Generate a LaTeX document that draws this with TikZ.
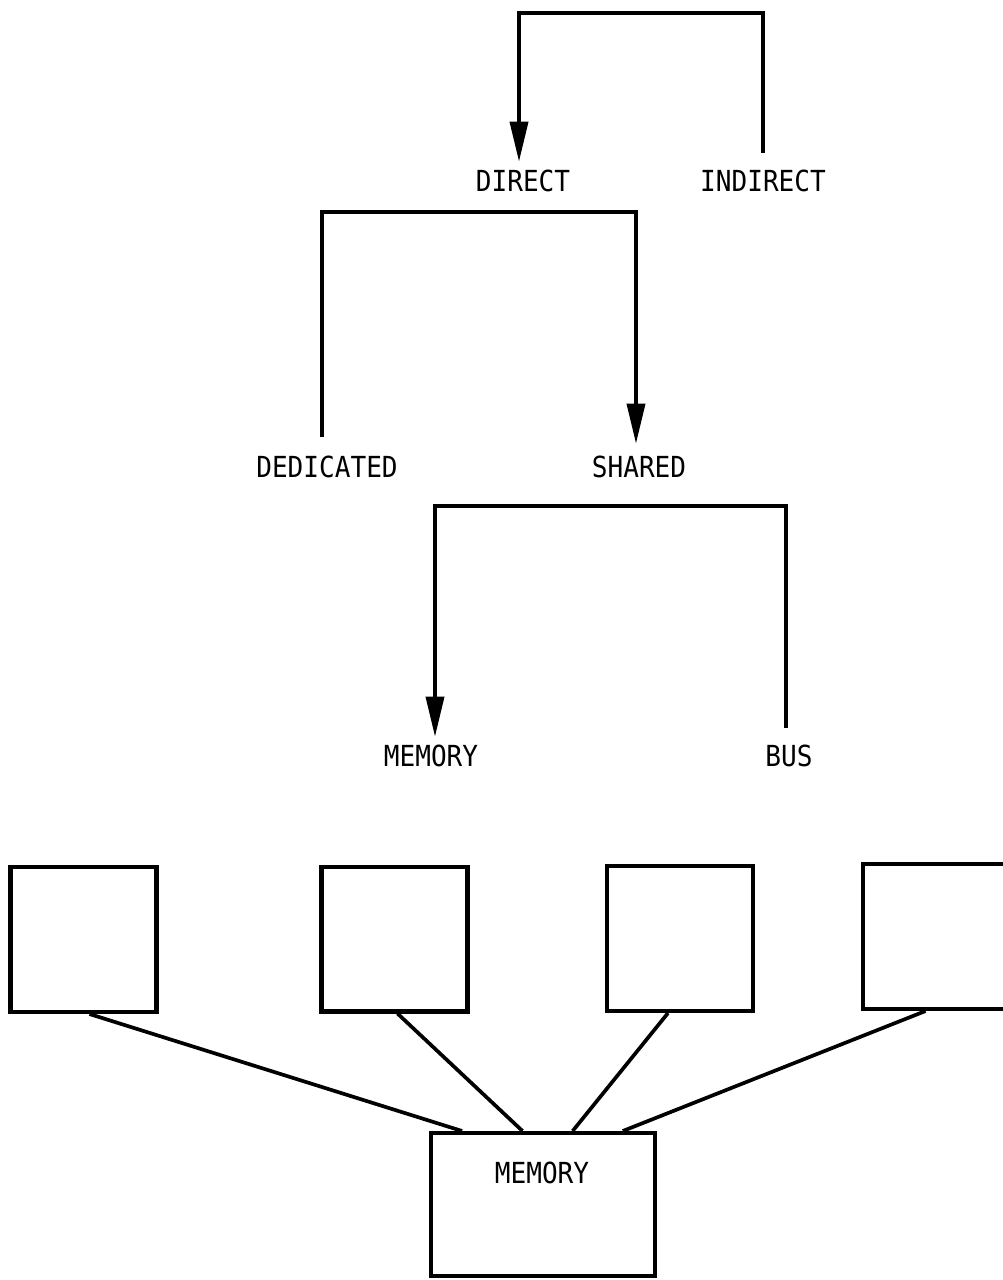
\documentclass[tikz,border=0pt]{standalone}
\usepackage{fontspec}
\newfontfamily\plotfont[FakeStretch=0.9]{DejaVu Sans Mono}
\usetikzlibrary{arrows.meta,calc}
\begin{document}
\begin{tikzpicture}[x=0.02cm,y=-0.02cm,
  tag/.style={inner sep=0pt, font=\plotfont\fontsize{16.5}{16.5}\selectfont},
  wire/.style={line width=2.1pt, line join=miter},
  feed/.style={wire,-{Triangle[length=0.8cm,width=0.36cm]}},
  unit/.style={draw, line width=2.3pt, inner sep=0pt,
               minimum width=2.92cm, minimum height=2.9cm}]
\useasboundingbox (0,0) rectangle (1002,1280);

% classification tree labels
\node[tag] (direct)    at (523,181) {DIRECT};
\node[tag] (indirect)  at (763,181) {INDIRECT};
\node[tag] (dedicated) at (327,467) {DEDICATED};
\node[tag] (shared)    at (639,467) {SHARED};
\node[tag] (memory)    at (431,756) {MEMORY};
\node[tag] (bus)       at (789,756) {BUS};

% heights of the branch bars
\coordinate (bar1) at (0,13);
\coordinate (bar2) at (0,212);
\coordinate (bar3) at (0,506);

\draw[feed] ($(indirect.north)+(0,-17)$) coordinate (a1)
  -- (a1 |- bar1) -| ($(direct.north)+(-4,-8)$);
\draw[feed] ($(dedicated.north)+(-5,-19)$) coordinate (a2)
  -- (a2 |- bar2) -| ($(shared.north)+(-3,-12)$);
\draw[feed] ($(bus.north)+(-3,-17)$) coordinate (a3)
  -- (a3 |- bar3) -| ($(memory.north)+(4,-8)$);

% processors sharing one memory
\node[unit] (p1) at (83.5,939.5) {};
\node[unit] (p2) at (394.5,939) {};
\node[unit] (p3) at (680,938.5) {};
\node[unit] (p4) at (936,936.5) {};
\node[draw, line width=2.3pt, inner sep=0pt,
      minimum width=4.48cm, minimum height=2.86cm] (mem) at (543,1204.5) {};
\node[tag] (memtext) at (542,1173) {MEMORY};

\draw[wire] ($(p1.south west)!0.54!(p1.south east)$) -- ($(mem.north west)!0.145!(mem.north east)$);
\draw[wire] ($(p2.south west)!0.52!(p2.south east)$) -- ($(mem.north west)!0.41!(mem.north east)$);
\draw[wire] ($(p3.south west)!0.42!(p3.south east)$) -- ($(mem.north west)!0.63!(mem.north east)$);
\draw[wire] ($(p4.south west)!0.43!(p4.south east)$) -- ($(mem.north west)!0.85!(mem.north east)$);
\end{tikzpicture}
\end{document}
